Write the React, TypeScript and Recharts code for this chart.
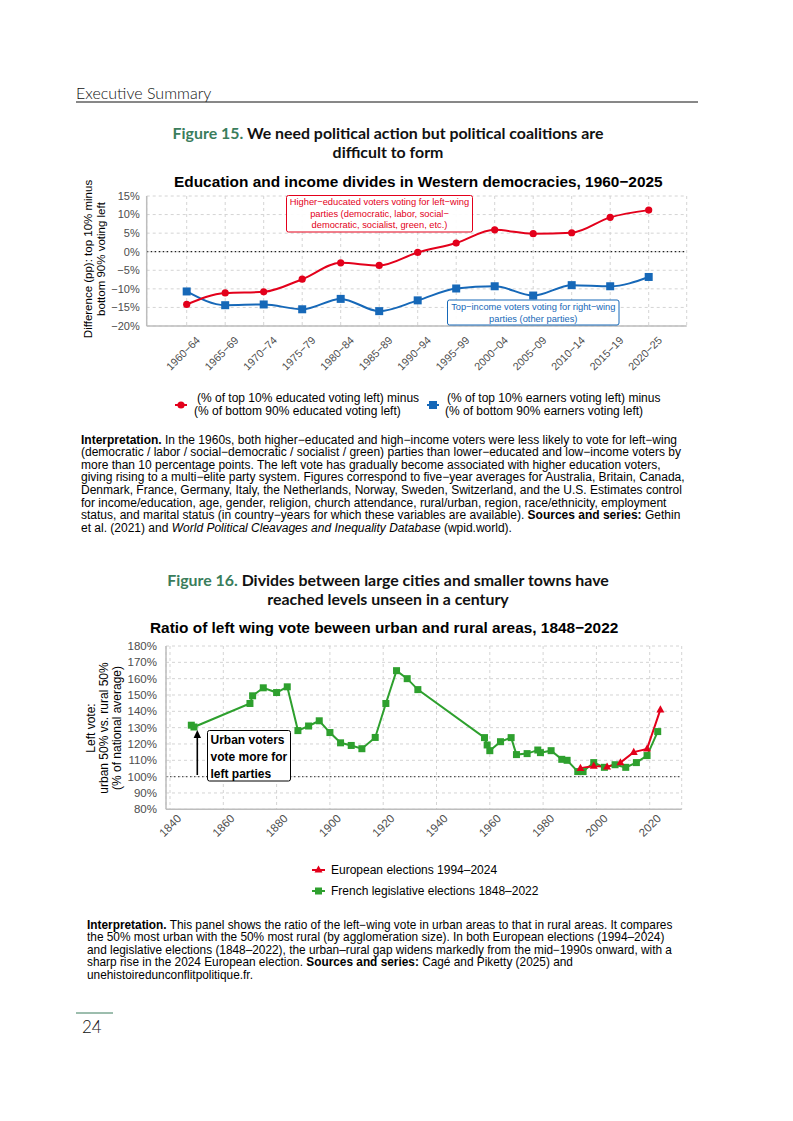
import React from 'react';
import { LineChart, Line, XAxis, YAxis, CartesianGrid, ReferenceLine } from 'recharts';

const SANS = '"Liberation Sans", Arial, Helvetica, sans-serif';
const LATO = 'Lato, "Open Sans", sans-serif';

const RED = '#e3001b';
const BLUE = '#1668b8';
const GREEN = '#2ea02e';
const FIGGREEN = '#3a7d5c';
const GRID = '#d4d4d4';
const AXIS = '#bdbdbd';
const TICK = '#4d4d4d';

// ---------- Figure 15 data ----------
const periods = ['1960−64', '1965−69', '1970−74', '1975−79', '1980−84', '1985−89', '1990−94', '1995−99', '2000−04', '2005−09', '2010−14', '2015−19', '2020−25'];
const educationGap = [-14.2, -11.1, -10.8, -7.4, -3.0, -3.7, -0.2, 2.35, 5.9, 4.85, 5.1, 9.25, 11.2];
const incomeGap = [-10.7, -14.4, -14.2, -15.5, -12.7, -16.0, -13.1, -9.9, -9.3, -11.8, -9.0, -9.3, -6.8];
const gapTicks = [-20, -15, -10, -5, 0, 5, 10, 15];

// ---------- Figure 16 data ----------
const frenchYears = [1848, 1849, 1870, 1871, 1875, 1880, 1884, 1888, 1892, 1896, 1900, 1904, 1908, 1912, 1917, 1921, 1925, 1929, 1933, 1958, 1959, 1960, 1964, 1968, 1970, 1974, 1978, 1979, 1983, 1987, 1989, 1993, 1995, 1999, 2003, 2007, 2011, 2015, 2019, 2023];
const frenchRatio = [131.5, 130.4, 144.8, 149.5, 154.4, 151.5, 155.0, 128.2, 131.0, 134.2, 127.0, 120.7, 119.1, 117.1, 124.0, 144.8, 164.9, 160.0, 153.3, 123.9, 119.4, 115.9, 121.4, 123.9, 113.5, 114.1, 116.3, 114.7, 115.9, 110.6, 110.0, 103.1, 103.1, 108.6, 105.7, 107.3, 105.7, 108.6, 112.9, 127.6];
const euroYears = [1994, 1999, 2004, 2009, 2014, 2019, 2024];
const euroRatio = [105.2, 106.5, 106.0, 108.6, 115.0, 117.0, 141.0];
const ratioTicks = [80, 90, 100, 110, 120, 130, 140, 150, 160, 170, 180];
const yearTicks = [1840, 1860, 1880, 1900, 1920, 1940, 1960, 1980, 2000, 2020];

const chart1Data = periods.map((p, i) => ({ period: p, edu: educationGap[i], inc: incomeGap[i] }));
const frenchData = frenchYears.map((y, i) => ({ year: y, v: frenchRatio[i] }));
const euroData = euroYears.map((y, i) => ({ year: y, v: euroRatio[i] }));

const pct = (v: number) => `${v < 0 ? '−' + Math.abs(v) : v}%`;

const RotTick = (props: any) => {
  const { x, y, payload, dx, dy, fs } = props;
  const px = x + dx;
  const py = y + dy;
  return (
    <text x={px} y={py} transform={`rotate(-45 ${px} ${py})`} textAnchor="end" fontSize={fs} fill={TICK} fontFamily={SANS}>
      {payload.value}
    </text>
  );
};

const squareDot = (color: string, size: number) => (props: any) => {
  const { cx, cy, index } = props;
  if (cx == null || cy == null) return <g key={`s${index}`} />;
  return <rect key={`s${index}`} x={cx - size / 2} y={cy - size / 2} width={size} height={size} fill={color} />;
};

const triDot = (color: string, size: number) => (props: any) => {
  const { cx, cy, index } = props;
  if (cx == null || cy == null) return <g key={`t${index}`} />;
  const h = size * 0.9;
  return (
    <polygon
      key={`t${index}`}
      points={`${cx},${cy - h * 0.62} ${cx - size / 2},${cy + h * 0.38} ${cx + size / 2},${cy + h * 0.38}`}
      fill={color}
    />
  );
};

const para1: React.ReactNode[] = [
  <><b>Interpretation.</b> In the 1960s, both higher−educated and high−income voters were less likely to vote for left−wing</>,
  <>(democratic / labor / social−democratic / socialist / green) parties than lower−educated and low−income voters by</>,
  <>more than 10 percentage points. The left vote has gradually become associated with higher education voters,</>,
  <>giving rising to a multi−elite party system. Figures correspond to five−year averages for Australia, Britain, Canada,</>,
  <>Denmark, France, Germany, Italy, the Netherlands, Norway, Sweden, Switzerland, and the U.S. Estimates control</>,
  <>for income/education, age, gender, religion, church attendance, rural/urban, region, race/ethnicity, employment</>,
  <>status, and marital status (in country−years for which these variables are available). <b>Sources and series:</b> Gethin</>,
  <>et al. (2021) and <i>World Political Cleavages and Inequality Database</i> (wpid.world).</>,
];

const para2: React.ReactNode[] = [
  <><b>Interpretation.</b> This panel shows the ratio of the left−wing vote in urban areas to that in rural areas. It compares</>,
  <>the 50% most urban with the 50% most rural (by agglomeration size). In both European elections (1994–2024)</>,
  <>and legislative elections (1848–2022), the urban–rural gap widens markedly from the mid−1990s onward, with a</>,
  <>sharp rise in the 2024 European election. <b>Sources and series:</b> Cagé and Piketty (2025) and</>,
  <>unehistoireduncon&#64258;itpolitique.fr.</>,
];

const Paragraph = ({ lines, left, firstCenter, step, fs }: { lines: React.ReactNode[]; left: number; firstCenter: number; step: number; fs: number }) => (
  <>
    {lines.map((l, i) => (
      <div
        key={i}
        style={{
          position: 'absolute',
          left,
          top: firstCenter + i * step - step / 2,
          height: step,
          lineHeight: `${step}px`,
          fontSize: fs,
          fontFamily: SANS,
          color: '#000',
          whiteSpace: 'nowrap',
        }}
      >
        {l}
      </div>
    ))}
  </>
);

export default function App() {
  return (
    <div style={{ position: 'absolute', left: 0, top: 0, width: 793, height: 1121, background: '#fff', overflow: 'hidden' }}>
      {/* Chart 1 */}
      <div style={{ position: 'absolute', left: 0, top: 186 }}>
        <LineChart width={793} height={200} data={chart1Data} margin={{ top: 10, right: 106.3, bottom: 0, left: 86.7 }}>
          <CartesianGrid stroke={GRID} strokeDasharray="3 3" />
          <XAxis
            dataKey="period"
            type="category"
            padding={{ left: 40, right: 38 }}
            height={60}
            axisLine={{ stroke: AXIS, strokeWidth: 1.5 }}
            tickLine={false}
            tickSize={0}
            tickMargin={0}
            interval={0}
            tick={(p: any) => <RotTick {...p} dx={14} dy={15} fs={10.8} />}
          />
          <YAxis
            domain={[-20, 15]}
            ticks={gapTicks}
            interval={0}
            width={60}
            axisLine={{ stroke: AXIS, strokeWidth: 1.5 }}
            tickLine={false}
            tickSize={0}
            tickMargin={7}
            tickFormatter={pct}
            tick={{ fontSize: 11, fill: TICK, fontFamily: SANS }}
            allowDataOverflow
          />
          <ReferenceLine y={0} stroke="#222" strokeDasharray="1.5 2.5" strokeWidth={1.2} />
          <Line type="monotone" dataKey="inc" stroke={BLUE} strokeWidth={2} dot={squareDot(BLUE, 8)} isAnimationActive={false} />
          <Line type="monotone" dataKey="edu" stroke={RED} strokeWidth={2} dot={{ r: 3.6, fill: RED, stroke: 'none' }} isAnimationActive={false} />
        </LineChart>
      </div>

      {/* Chart 2 */}
      <div style={{ position: 'absolute', left: 0, top: 636 }}>
        <LineChart width={793} height={240} margin={{ top: 10, right: 111.3, bottom: 0, left: 106 }}>
          <CartesianGrid stroke={GRID} strokeDasharray="3 3" />
          <XAxis
            dataKey="year"
            type="number"
            domain={[1838.5, 2032]}
            ticks={yearTicks}
            allowDataOverflow
            height={66.7}
            axisLine={{ stroke: AXIS, strokeWidth: 1.5 }}
            tickLine={false}
            tickSize={0}
            tickMargin={0}
            interval={0}
            tick={(p: any) => <RotTick {...p} dx={12} dy={10} fs={11.5} />}
          />
          <YAxis
            domain={[80, 180]}
            ticks={ratioTicks}
            interval={0}
            width={60}
            axisLine={{ stroke: AXIS, strokeWidth: 1.5 }}
            tickLine={false}
            tickSize={0}
            tickMargin={9}
            tickFormatter={(v: number) => `${v}%`}
            tick={{ fontSize: 11.5, fill: TICK, fontFamily: SANS }}
            allowDataOverflow
          />
          <ReferenceLine y={100} stroke="#555" strokeDasharray="1.5 2.5" strokeWidth={1.2} />
          <Line data={frenchData} type="linear" dataKey="v" stroke={GREEN} strokeWidth={2} dot={squareDot(GREEN, 7)} isAnimationActive={false} />
          <Line data={euroData} type="linear" dataKey="v" stroke={RED} strokeWidth={2} dot={triDot(RED, 8)} isAnimationActive={false} />
        </LineChart>
      </div>

      {/* Overlay texts */}
      <svg width={793} height={1121} style={{ position: 'absolute', left: 0, top: 0, pointerEvents: 'none' }}>
        {/* header */}
        <text x={76} y={92} dominantBaseline="central" fontFamily={LATO} fontWeight={300} fontSize={16} fill="#111">Executive Summary</text>
        <line x1={76} x2={698} y1={102} y2={102} stroke="#111" strokeWidth={1} />

        {/* Figure 15 title */}
        <text x={388} y={132} textAnchor="middle" dominantBaseline="central" fontFamily={LATO} fontWeight={700} fontSize={15.9}>
          <tspan fill={FIGGREEN}>Figure 15.</tspan>
          <tspan fill="#111"> We need political action but political coalitions are</tspan>
        </text>
        <text x={388} y={151} textAnchor="middle" dominantBaseline="central" fontFamily={LATO} fontWeight={700} fontSize={15.9} fill="#111">difficult to form</text>

        <text x={174} y={181} dominantBaseline="central" fontFamily={SANS} fontWeight={700} fontSize={15.4} fill="#000">Education and income divides in Western democracies, 1960−2025</text>

        {/* y label chart 1 */}
        <g transform="translate(88 259) rotate(-90)">
          <text x={0} y={0} textAnchor="middle" dominantBaseline="central" fontFamily={SANS} fontSize={11.5} fill="#000">Difference (pp): top 10% minus</text>
          <text x={0} y={12.5} textAnchor="middle" dominantBaseline="central" fontFamily={SANS} fontSize={11.5} fill="#000">bottom 90% voting left</text>
        </g>

        {/* annotation boxes chart 1 */}
        <rect x={286.5} y={195.5} width={186} height={36.5} rx={2} fill="#fff" fillOpacity={0.92} stroke={RED} strokeWidth={1} />
        <g fontFamily={SANS} fontSize={9.3} fill={RED} textAnchor="middle">
          <text x={379.5} y={202.3} dominantBaseline="central">Higher−educated voters voting for left−wing</text>
          <text x={379.5} y={213.8} dominantBaseline="central">parties (democratic, labor, social−</text>
          <text x={379.5} y={225.3} dominantBaseline="central">democratic, socialist, green, etc.)</text>
        </g>
        <rect x={447.5} y={300} width={171.5} height={25} rx={2} fill="#fff" fillOpacity={0.92} stroke={BLUE} strokeWidth={1} />
        <g fontFamily={SANS} fontSize={9.3} fill={BLUE} textAnchor="middle">
          <text x={533.3} y={306.8} dominantBaseline="central">Top−income voters voting for right−wing</text>
          <text x={533.3} y={319.3} dominantBaseline="central">parties (other parties)</text>
        </g>

        {/* legend chart 1 */}
        <line x1={175} x2={187} y1={405} y2={405} stroke={RED} strokeWidth={2} />
        <circle cx={181} cy={405} r={3.6} fill={RED} />
        <g fontFamily={SANS} fontSize={12} fill="#000">
          <text x={197} y={398} dominantBaseline="central">(% of top 10% educated voting left) minus</text>
          <text x={194} y={411} dominantBaseline="central">(% of bottom 90% educated voting left)</text>
        </g>
        <line x1={427} x2={439} y1={405} y2={405} stroke={BLUE} strokeWidth={2} />
        <rect x={429} y={401} width={8} height={8} fill={BLUE} />
        <g fontFamily={SANS} fontSize={12} fill="#000">
          <text x={447} y={398} dominantBaseline="central">(% of top 10% earners voting left) minus</text>
          <text x={445} y={411} dominantBaseline="central">(% of bottom 90% earners voting left)</text>
        </g>

        {/* Figure 16 title */}
        <text x={388} y={579} textAnchor="middle" dominantBaseline="central" fontFamily={LATO} fontWeight={700} fontSize={15.9}>
          <tspan fill={FIGGREEN}>Figure 16.</tspan>
          <tspan fill="#111"> Divides between large cities and smaller towns have</tspan>
        </text>
        <text x={388} y={598} textAnchor="middle" dominantBaseline="central" fontFamily={LATO} fontWeight={700} fontSize={15.9} fill="#111">reached levels unseen in a century</text>

        <text x={150} y={627} dominantBaseline="central" fontFamily={SANS} fontWeight={700} fontSize={15.4} fill="#000">Ratio of left wing vote beween urban and rural areas, 1848−2022</text>

        {/* y label chart 2 */}
        <g transform="translate(91 728) rotate(-90)" fontFamily={SANS} fontSize={12} fill="#000" textAnchor="middle">
          <text x={0} y={0} dominantBaseline="central">Left vote:</text>
          <text x={0} y={13} dominantBaseline="central">urban 50% vs. rural 50%</text>
          <text x={0} y={26} dominantBaseline="central">(% of national average)</text>
        </g>

        {/* annotation chart 2 */}
        <line x1={197.3} x2={197.3} y1={775} y2={734} stroke="#000" strokeWidth={1.6} />
        <polygon points="197.3,730 193.6,738 201,738" fill="#000" />
        <rect x={207.5} y={730.5} width={83} height={50.5} rx={2} fill="#fff" stroke="#000" strokeWidth={1} />
        <g fontFamily={SANS} fontWeight={700} fontSize={12} fill="#000">
          <text x={210.5} y={739.5} dominantBaseline="central">Urban voters</text>
          <text x={210.5} y={756.8} dominantBaseline="central">vote more for</text>
          <text x={210.5} y={774} dominantBaseline="central">left parties</text>
        </g>

        {/* legend chart 2 */}
        <line x1={312} x2={325} y1={870} y2={870} stroke={RED} strokeWidth={2} />
        <polygon points="318.5,865.5 314.5,872.5 322.5,872.5" fill={RED} />
        <text x={331} y={870} dominantBaseline="central" fontFamily={SANS} fontSize={12} fill="#000">European elections 1994–2024</text>
        <line x1={312} x2={325} y1={891} y2={891} stroke={GREEN} strokeWidth={2} />
        <rect x={315} y={887.5} width={7} height={7} fill={GREEN} />
        <text x={331} y={891} dominantBaseline="central" fontFamily={SANS} fontSize={12} fill="#000">French legislative elections 1848–2022</text>

        {/* page number */}
        <line x1={76} x2={113} y1={1013} y2={1013} stroke={FIGGREEN} strokeWidth={1} />
        <text x={82} y={1026} dominantBaseline="central" fontFamily={LATO} fontWeight={300} fontSize={17} fill="#111">24</text>
      </svg>

      <Paragraph lines={para1} left={81} firstCenter={440} step={12.57} fs={12.0} />
      <Paragraph lines={para2} left={87} firstCenter={925} step={12.5} fs={11.85} />
    </div>
  );
}
